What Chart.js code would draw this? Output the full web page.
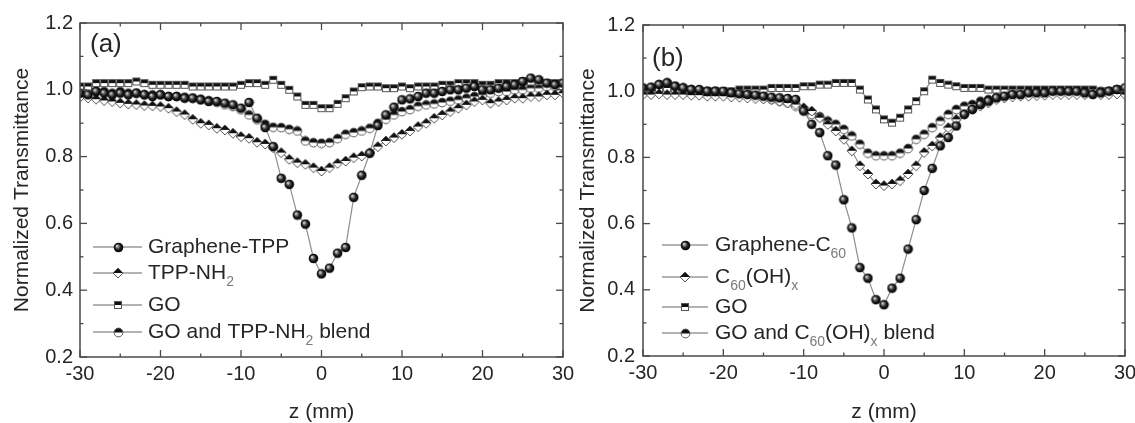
<!DOCTYPE html>
<html><head><meta charset="utf-8">
<script src="https://cdn.jsdelivr.net/npm/chart.js@4.4.1/dist/chart.umd.min.js"></script>
<style>
html,body{margin:0;padding:0;background:#fff;}
#wrap{position:relative;width:1135px;height:423px;overflow:hidden;background:#fff;}
canvas{position:absolute;top:0;}
#ca{left:0;}
#cb{left:567px;}
</style></head><body>
<div id="wrap"><canvas id="cb" width="568" height="423"></canvas><canvas id="ca" width="600" height="423"></canvas></div>
<script>
// ---------------- DATA ----------------
const zValues = [-30,-29,-28,-27,-26,-25,-24,-23,-22,-21,-20,-19,-18,-17,-16,-15,-14,-13,-12,-11,
  -10,-9,-8,-7,-6,-5,-4,-3,-2,-1,0,1,2,3,4,5,6,7,8,9,10,
  11,12,13,14,15,16,17,18,19,20,21,22,23,24,25,26,27,28,29,30];
const xTickLabels = [-30,-20,-10,0,10,20,30];
const yTickLabels = [0.2,0.4,0.6,0.8,1.0,1.2];

const labelsA = ['Graphene-TPP','TPP-NH_{2}','GO','GO and TPP-NH_{2} blend'];
const labelsB = ['Graphene-C_{60}','C_{60}(OH)_{x}','GO','GO and C_{60}(OH)_{x} blend'];

// panel (a)
const aGrapheneTPP = [0.99,0.985,0.995,0.99,0.985,0.99,0.985,0.99,0.985,0.98,
  0.985,0.98,0.98,0.975,0.975,0.97,0.965,0.965,0.96,0.955,
  0.945,0.962,0.915,0.887,0.83,0.735,0.717,0.625,0.598,0.495,
  0.449,
  0.466,0.511,0.528,0.678,0.744,0.81,0.893,0.925,0.948,0.97,
  0.973,0.98,0.99,0.99,0.995,1.0,1.0,1.005,1.01,1.0,
  1.0,1.005,1.01,1.015,1.025,1.035,1.03,1.02,1.015,1.02];
const aTPPNH2 = [0.978,0.976,0.972,0.968,0.965,0.961,0.958,0.956,0.953,0.952,
  0.95,0.945,0.935,0.926,0.912,0.9,0.895,0.885,0.88,0.87,
  0.86,0.855,0.843,0.838,0.827,0.812,0.792,0.782,0.777,0.767,
  0.757,
  0.767,0.78,0.787,0.797,0.802,0.812,0.83,0.847,0.857,0.867,
  0.877,0.89,0.9,0.915,0.925,0.935,0.945,0.955,0.965,0.97,
  0.96,0.965,0.97,0.975,0.975,0.98,0.98,0.985,0.985,0.99];
const aGO = [1.01,1.01,1.02,1.02,1.02,1.02,1.02,1.025,1.02,1.015,
  1.015,1.015,1.015,1.015,1.01,1.01,1.01,1.01,1.01,1.01,
  1.015,1.02,1.02,1.015,1.03,1.015,1.0,0.98,0.955,0.955,
  0.945,
  0.945,0.958,0.975,0.995,1.008,1.01,1.01,1.005,1.005,1.01,
  1.005,1.01,1.01,1.01,1.015,1.015,1.02,1.02,1.02,1.015,
  1.015,1.02,1.02,1.02,1.025,1.025,1.025,1.02,1.02,1.02];
const aBlend = [1.0,1.0,0.995,0.995,0.99,0.995,0.99,0.99,0.985,0.985,
  0.985,0.98,0.98,0.978,0.975,0.972,0.968,0.962,0.955,0.95,
  0.94,0.925,0.91,0.897,0.888,0.887,0.882,0.877,0.847,0.842,
  0.84,
  0.842,0.854,0.867,0.872,0.877,0.885,0.9,0.912,0.925,0.935,
  0.941,0.951,0.955,0.958,0.962,0.966,0.97,0.975,0.98,0.985,
  0.99,0.995,0.995,1.0,1.0,1.005,1.005,1.01,1.01,1.01];

// panel (b)
const bGrapheneC60 = [1.01,1.012,1.02,1.025,1.015,1.01,1.005,1.005,1.0,1.0,
  1.0,0.995,0.992,0.99,0.988,0.985,0.982,0.98,0.978,0.975,
  0.94,0.9,0.875,0.805,0.777,0.672,0.587,0.467,0.435,0.37,
  0.355,
  0.405,0.435,0.523,0.612,0.70,0.767,0.835,0.86,0.895,0.93,
  0.945,0.96,0.97,0.98,0.985,0.99,0.99,0.995,0.995,0.995,
  1.0,1.0,1.0,1.0,0.995,0.99,0.995,1.0,1.005,1.01];
const bC60OH = [0.99,0.99,0.992,0.99,0.99,0.99,0.988,0.988,0.985,0.985,
  0.985,0.983,0.982,0.98,0.978,0.977,0.975,0.97,0.965,0.96,
  0.95,0.94,0.92,0.9,0.88,0.855,0.82,0.775,0.75,0.72,
  0.715,
  0.72,0.73,0.75,0.775,0.815,0.835,0.86,0.89,0.915,0.93,
  0.945,0.955,0.965,0.975,0.98,0.983,0.985,0.985,0.987,0.988,
  0.99,0.99,0.99,0.99,0.99,0.992,0.99,0.99,0.992,0.99];
const bGO = [1.005,1.005,1.01,1.01,1.005,1.005,1.0,1.0,1.0,1.0,
  1.0,1.0,1.005,1.005,1.005,1.005,1.01,1.01,1.01,1.01,
  1.015,1.015,1.02,1.02,1.025,1.025,1.025,1.005,0.975,0.945,
  0.915,
  0.905,0.92,0.945,0.97,1.0,1.035,1.025,1.02,1.015,1.01,
  1.01,1.01,1.005,1.005,1.005,1.005,1.005,1.005,1.005,1.005,
  1.005,1.005,1.005,1.005,1.005,1.005,1.0,1.0,1.005,1.005];
const bBlend = [1.005,1.01,1.02,1.025,1.015,1.01,1.005,1.0,1.0,1.0,
  0.995,0.995,0.99,0.99,0.985,0.98,0.975,0.97,0.965,0.955,
  0.945,0.93,0.923,0.91,0.90,0.885,0.865,0.84,0.813,0.805,
  0.805,
  0.805,0.813,0.827,0.855,0.87,0.89,0.91,0.93,0.945,0.955,
  0.96,0.97,0.975,0.98,0.985,0.99,0.99,0.993,0.995,0.995,
  0.997,1.0,1.0,1.0,1.0,1.0,1.0,1.0,1.005,1.005];

// ---------------- STYLES ----------------
const FONT = '"Liberation Sans", Arial, Helvetica, sans-serif';
const TEXT = '#262626';

function mk(size, draw){const c=document.createElement('canvas');c.width=size;c.height=size;draw(c.getContext('2d'),size);return c;}
const ballImg = mk(11,(g,s)=>{const cx=s/2,cy=s/2,r=4.8;
  const grd=g.createRadialGradient(cx-1.6,cy-1.6,0.2,cx,cy,r);
  grd.addColorStop(0,'#f4f4f4');grd.addColorStop(0.28,'#7a7a7a');grd.addColorStop(0.6,'#1e1e1e');grd.addColorStop(1,'#000');
  g.fillStyle=grd;g.beginPath();g.arc(cx,cy,r,0,Math.PI*2);g.fill();});
const halfCircleImg = mk(11,(g,s)=>{const cx=s/2,cy=s/2,r=4.4;
  g.fillStyle='#fff';g.beginPath();g.arc(cx,cy,r,0,2*Math.PI);g.fill();
  g.fillStyle='#111';g.beginPath();g.arc(cx,cy,r,Math.PI,2*Math.PI);g.closePath();g.fill();
  g.strokeStyle='#555';g.lineWidth=1;g.beginPath();g.arc(cx,cy,r,0,2*Math.PI);g.stroke();});
const halfDiamondImg = mk(12,(g,s)=>{const cx=s/2,cy=s/2,r=5;
  g.fillStyle='#fff';g.beginPath();g.moveTo(cx,cy-r);g.lineTo(cx+r,cy);g.lineTo(cx,cy+r);g.lineTo(cx-r,cy);g.closePath();g.fill();
  g.fillStyle='#111';g.beginPath();g.moveTo(cx,cy-r);g.lineTo(cx+r,cy);g.lineTo(cx-r,cy);g.closePath();g.fill();
  g.strokeStyle='#555';g.lineWidth=1;g.beginPath();g.moveTo(cx,cy-r);g.lineTo(cx+r,cy);g.lineTo(cx,cy+r);g.lineTo(cx-r,cy);g.closePath();g.stroke();});
const halfSquareImg = mk(10,(g,s)=>{const a=1,w=8;
  g.fillStyle='#fff';g.fillRect(a,a,w,w);
  g.fillStyle='#111';g.fillRect(a,a,w,w/2);
  g.strokeStyle='#555';g.lineWidth=1;g.strokeRect(a+0.5,a+0.5,w-1,w-1);});
const markerImgs = [ballImg, halfDiamondImg, halfSquareImg, halfCircleImg];

function parseRich(label){const out=[];const re=/_\{([^}]*)\}/g;let last=0,m;
  while((m=re.exec(label))){if(m.index>last)out.push({t:label.slice(last,m.index),sub:false});out.push({t:m[1],sub:true});last=re.lastIndex;}
  if(last<label.length)out.push({t:label.slice(last),sub:false});return out;}

const framePlugin = {id:'frame', afterDatasetsDraw(chart){
  const {ctx, chartArea:a, scales:{x,y}} = chart;
  ctx.save();ctx.strokeStyle='#4a4a4a';ctx.lineWidth=1.5;
  ctx.strokeRect(a.left,a.top,a.right-a.left,a.bottom-a.top);
  ctx.lineWidth=1.3;
  const seg=(x1,y1,x2,y2)=>{ctx.beginPath();ctx.moveTo(x1,y1);ctx.lineTo(x2,y2);ctx.stroke();};
  const xt=x.ticks.map(t=>t.value), yt=y.ticks.map(t=>t.value);
  xt.forEach((v,i)=>{const p=x.getPixelForValue(v);seg(p,a.bottom,p,a.bottom-7);seg(p,a.top,p,a.top+7);
    if(i<xt.length-1){const q=x.getPixelForValue((v+xt[i+1])/2);seg(q,a.bottom,q,a.bottom-3.5);seg(q,a.top,q,a.top+3.5);}});
  yt.forEach((v,i)=>{const p=y.getPixelForValue(v);seg(a.left,p,a.left+7,p);seg(a.right,p,a.right-7,p);
    if(i<yt.length-1){const q=y.getPixelForValue((v+yt[i+1])/2);seg(a.left,q,a.left+3.5,q);seg(a.right,q,a.right-3.5,q);}});
  ctx.restore();}};

const legendPlugin = {id:'insideLegend', afterDraw(chart, args, o){
  const ctx=chart.ctx;ctx.save();
  chart.data.datasets.forEach((ds,i)=>{
    const yy=o.rows[i];
    ctx.strokeStyle='#9a9a9a';ctx.lineWidth=1.5;
    ctx.beginPath();ctx.moveTo(o.lineStart,yy);ctx.lineTo(o.lineEnd,yy);ctx.stroke();
    const img=ds.pointStyle;ctx.drawImage(img,Math.round(o.marker-img.width/2),Math.round(yy-img.height/2));
    let xx=o.textStart;ctx.textBaseline='middle';ctx.textAlign='left';
    parseRich(ds.label).forEach(seg=>{
      if(seg.sub){ctx.font='14px '+FONT;ctx.fillStyle='#7a7a7a';ctx.fillText(seg.t,xx,yy+9);}
      else{ctx.font='21px '+FONT;ctx.fillStyle=TEXT;ctx.fillText(seg.t,xx,yy);}
      xx+=ctx.measureText(seg.t).width;});
  });
  ctx.font=o.panelFont+' '+FONT;ctx.fillStyle=TEXT;ctx.textBaseline='alphabetic';ctx.textAlign='left';
  ctx.fillText(o.panelText,o.panelX,o.panelY);
  ctx.restore();}};

function build(canvasId, seriesList, labels, L){
  const datasets = seriesList.map((arr,i)=>({
    label: labels[i],
    data: zValues.map((z,k)=>({x:z,y:arr[k]})),
    showLine:true, borderColor:'#8e8e8e', borderWidth:1.2, tension:0,
    pointStyle: markerImgs[i], pointRadius:5, fill:false
  }));
  return new Chart(document.getElementById(canvasId), {
    type:'scatter',
    data:{datasets},
    plugins:[framePlugin, legendPlugin],
    options:{
      responsive:false, animation:false, devicePixelRatio:1, events:[],
      layout:{padding:{top:L.top,right:L.right,left:0,bottom:0}},
      plugins:{legend:{display:false},tooltip:{enabled:false},insideLegend:L.legend},
      scales:{
        x:{type:'linear',min:-30,max:30,
          afterBuildTicks(s){s.ticks=xTickLabels.map(v=>({value:v}));},
          ticks:{font:{family:FONT,size:20},color:TEXT,padding:L.xpad,maxRotation:0,autoSkip:false},
          grid:{display:false,drawTicks:false},border:{display:false},
          title:{display:true,text:'z (mm)',font:{family:FONT,size:21,lineHeight:1},color:TEXT,padding:{top:0,bottom:L.xtb}},
          afterFit(s){s.height=L.xh;s.paddingLeft=0;s.paddingRight=0;}},
        y:{type:'linear',min:0.2,max:1.2,
          afterBuildTicks(s){s.ticks=yTickLabels.map(v=>({value:v}));},
          ticks:{font:{family:FONT,size:20},color:TEXT,padding:L.ypad,callback:v=>Number(v).toFixed(1)},
          grid:{display:false,drawTicks:false},border:{display:false},
          title:{display:true,text:'Normalized Transmittance',font:{family:FONT,size:21,lineHeight:1.2},color:TEXT,padding:{top:L.ytp,bottom:0}},
          afterFit(s){s.width=L.yw;s.paddingTop=0;s.paddingBottom=0;}}
      }
    }
  });
}

build('ca',[aGrapheneTPP,aTPPNH2,aGO,aBlend],labelsA,{
  top:23,right:37,yw:80,xh:66,xpad:5,ypad:7,ytp:10,xtb:0,
  legend:{rows:[247,273,305,332],lineStart:93,lineEnd:142,marker:118,textStart:148,
    panelText:'(a)',panelFont:'26px',panelX:90,panelY:52}});
build('cb',[bGrapheneC60,bC60OH,bGO,bBlend],labelsB,{
  top:25,right:10,yw:76,xh:67,xpad:5,ypad:8,ytp:9,xtb:0,
  legend:{rows:[245,277,307,333],lineStart:95,lineEnd:141,marker:118,textStart:148,
    panelText:'(b)',panelFont:'26px',panelX:85,panelY:66}});
</script>
</body></html>
